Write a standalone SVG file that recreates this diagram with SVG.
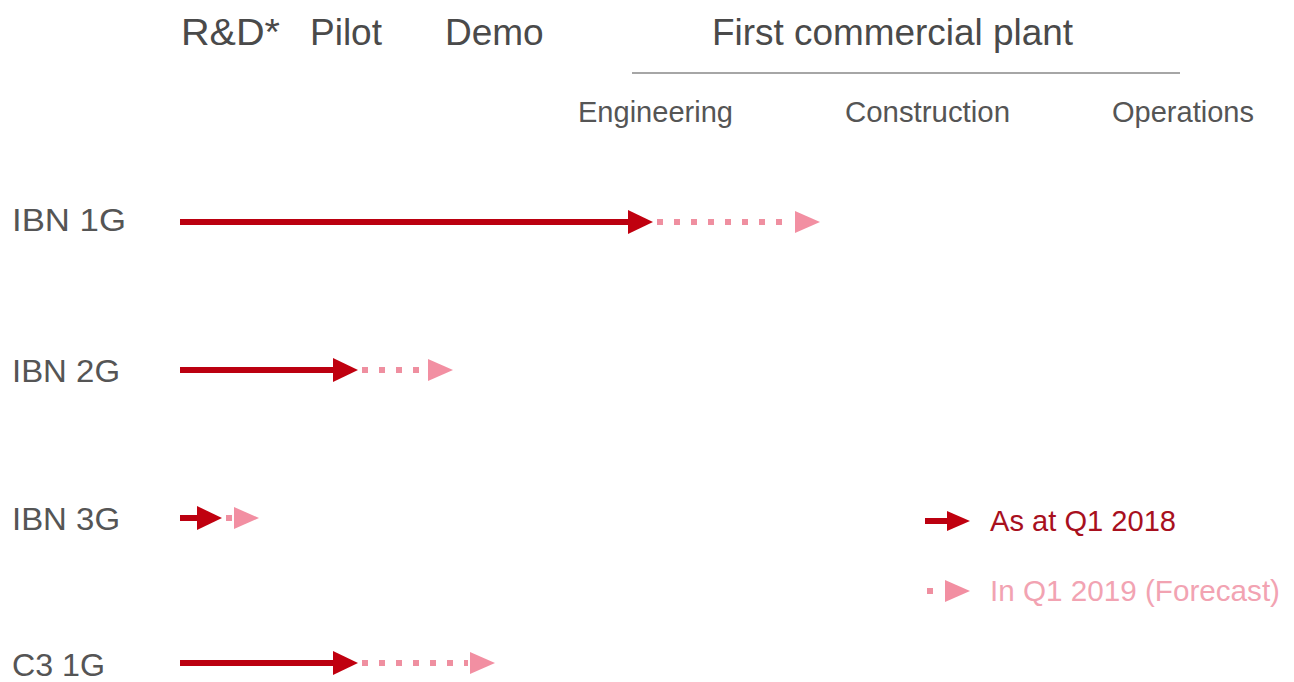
<svg xmlns="http://www.w3.org/2000/svg" width="1294" height="682" viewBox="0 0 1294 682">
<style>
text{font-family:"Liberation Sans",Arial,sans-serif;fill:#4a4a4a}
.h{font-size:37px}
.s{font-size:29px;fill:#555}
.r{font-size:32px;fill:#555}
.solid{stroke:#bb0010;stroke-width:6;fill:none}
.dot{stroke:#ef8fa0;stroke-width:6;stroke-dasharray:6 11;fill:none}
.hd{fill:#c0000f}
.hp{fill:#f28fa2}
</style>
<rect width="1294" height="682" fill="#fff"/>
<g id="header">
<text class="h" x="181" y="45" textLength="99" lengthAdjust="spacingAndGlyphs">R&amp;D*</text>
<text class="h" x="310" y="45">Pilot</text>
<text class="h" x="445" y="45">Demo</text>
<text class="h" x="712" y="45" textLength="361" lengthAdjust="spacingAndGlyphs">First commercial plant</text>
<line x1="632" y1="73" x2="1180" y2="73" stroke="#888" stroke-width="1.5"/>
<text class="s" x="578" y="122" textLength="155" lengthAdjust="spacingAndGlyphs">Engineering</text>
<text class="s" x="845" y="122" textLength="165" lengthAdjust="spacingAndGlyphs">Construction</text>
<text class="s" x="1112" y="122" textLength="142" lengthAdjust="spacingAndGlyphs">Operations</text>
</g>
<g id="labels">
<text class="r" x="12" y="231" textLength="114" lengthAdjust="spacingAndGlyphs">IBN 1G</text>
<text class="r" x="12" y="382" textLength="108" lengthAdjust="spacingAndGlyphs">IBN 2G</text>
<text class="r" x="12" y="530" textLength="108" lengthAdjust="spacingAndGlyphs">IBN 3G</text>
<text class="r" x="12" y="676" textLength="93" lengthAdjust="spacingAndGlyphs">C3 1G</text>
</g>
<g id="connectors">
<line class="solid" x1="180" y1="222" x2="632" y2="222"/>
<polygon class="hd" points="628,210 653,222 628,234"/>
<line class="dot" x1="657" y1="222" x2="792" y2="222"/>
<polygon class="hp" points="795,211 820,222 795,233"/>
<line class="solid" x1="180" y1="370" x2="336" y2="370"/>
<polygon class="hd" points="333,358 358,370 333,382"/>
<line class="dot" x1="362" y1="370" x2="426" y2="370"/>
<polygon class="hp" points="428,359 453,370 428,381"/>
<line class="solid" x1="180" y1="518" x2="200" y2="518"/>
<polygon class="hd" points="197,506 222,518 197,530"/>
<line class="dot" x1="226" y1="518" x2="232" y2="518"/>
<polygon class="hp" points="234,507 259,518 234,529"/>
<line class="solid" x1="180" y1="663" x2="336" y2="663"/>
<polygon class="hd" points="333,651 358,663 333,675"/>
<line class="dot" x1="362" y1="663" x2="468" y2="663"/>
<polygon class="hp" points="470,652 495,663 470,674"/>
</g>
<g id="legend">
<line class="solid" x1="925" y1="521" x2="950" y2="521"/>
<polygon class="hd" points="947,511 970,521 947,531"/>
<text x="990" y="531" textLength="186" lengthAdjust="spacingAndGlyphs" style="font-size:29px;fill:#a8101e">As at Q1 2018</text>
<line class="dot" x1="927" y1="591" x2="933" y2="591"/>
<polygon class="hp" points="945,580 970,591 945,602"/>
<text x="990" y="601" textLength="290" lengthAdjust="spacingAndGlyphs" style="font-size:29px;fill:#f2a3b2">In Q1 2019 (Forecast)</text>
</g>
</svg>
